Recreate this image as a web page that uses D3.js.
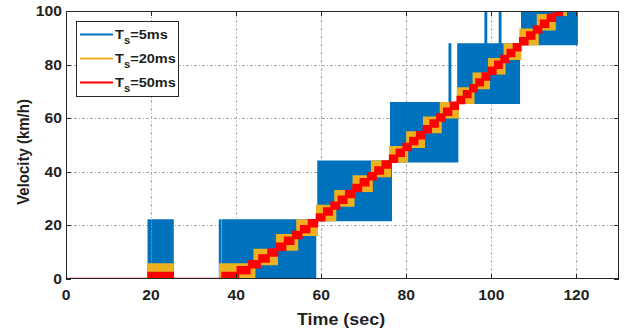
<!DOCTYPE html>
<html>
<head>
<meta charset="utf-8">
<script src="https://cdn.jsdelivr.net/npm/d3@7"></script>
<style>
  body { margin: 0; background: #fff; }
  svg { display: block; }
  text { font-family: "Liberation Sans", Arial, sans-serif; font-weight: bold; fill: #1f1f1f; }
</style>
</head>
<body>
<div id="chart"></div>
<script>
const legendLabels = ["5ms", "20ms", "50ms"];
const seriesColors = ["#0072bd", "#edb120", "#ff0000"];
const xTicks = [0, 20, 40, 60, 80, 100, 120];
const yTicks = [0, 20, 40, 60, 80, 100];

// Ts = 5ms, read as bands the signal fills: [t start, t end, v low, v high]
const blueBands = [
  [0, 19.4, 0, 0],
  [19.4, 19.8, 0, 21.9],
  [20.3, 25.1, 0, 21.9],
  [25.1, 36.2, 0, 0],
  [36.15, 36.35, 0, 21.9],
  [36.9, 58.6, 0, 21.9],
  [59.3, 76.4, 21.9, 43.8],
  [76.4, 92.0, 43.8, 65.7],
  [90.15, 90.35, 65.7, 87.6],
  [92.2, 106.5, 65.7, 87.6],
  [98.6, 98.8, 87.6, 109.5],
  [101.95, 102.15, 87.6, 109.5],
  [107.2, 120.1, 87.6, 109.5]
];

// Ts = 20ms: idle part, then one box per quantisation level
const yellowQuantum = 5.475;
const yellowIdle = [
  [0, 19.4, 0, 0],
  [19.4, 25.1, 0, 5.475],
  [25.1, 36.2, 0, 0]
];
const yellowSteps = [36.2, 44.3, 49.6, 54.35, 59.0, 63.3, 67.6, 71.9, 76.2, 80.2,
  84.15, 88.1, 92.1, 95.8, 99.45, 103.1, 106.8, 110.9, 114.9, 117.5];

// Ts = 50ms
const redQuantum = 2.19;
const redIdle = [
  [0, 19.4, 0, 0],
  [19.4, 25.1, 0, 2.19],
  [25.1, 36.8, 0, 0]
];
const redSteps = [36.8, 40.4, 43.1, 45.5, 47.6, 49.6, 51.5, 53.4, 55.3, 57.15, 59.0,
  60.72, 62.44, 64.16, 65.88, 67.6, 69.32, 71.04, 72.76, 74.48, 76.2,
  77.79, 79.38, 80.97, 82.56, 84.15, 85.74, 87.33, 88.92, 90.51, 92.1,
  93.57, 95.04, 96.51, 97.98, 99.45, 100.92, 102.39, 103.86, 105.33, 106.8,
  108.43, 110.05, 111.68, 113.3, 114.93, 116.55, 117.5];

const width = 624, height = 331;
const margin = { left: 66, right: 5, top: 11, bottom: 52 };
const stretch = 1.12; // text in the reference is a little wide
const lineWidths = [2, 2, 2.6];

const x = d3.scaleLinear().domain([0, 130]).range([margin.left, width - margin.right]);
const y = d3.scaleLinear().domain([0, 100]).range([height - margin.bottom, margin.top]);

const svg = d3.select("#chart").append("svg")
  .attr("width", width)
  .attr("height", height);

svg.append("clipPath").attr("id", "plot")
  .append("rect")
  .attr("x", x(0)).attr("y", y(100))
  .attr("width", x(130) - x(0)).attr("height", y(0) - y(100));

// grid
const grid = svg.append("g")
  .attr("stroke", "#a6a6a6")
  .attr("stroke-width", 1)
  .attr("stroke-dasharray", "3,2,1,2");
grid.selectAll(null).data(xTicks.slice(1)).join("line")
  .attr("x1", d => Math.round(x(d)) + 0.5).attr("x2", d => Math.round(x(d)) + 0.5)
  .attr("y1", y(0)).attr("y2", y(100));
grid.selectAll(null).data(yTicks.slice(1)).join("line")
  .attr("x1", x(0)).attr("x2", x(130))
  .attr("y1", d => Math.round(y(d)) + 0.5).attr("y2", d => Math.round(y(d)) + 0.5);

function stepBands(steps, q) {
  return steps.slice(0, -1).map((t, i) => [t, steps[i + 1], i * q, (i + 1) * q]);
}

function bandPath(d) {
  const x0 = x(d[0]), x1 = x(d[1]), y0 = y(d[2]), y1 = y(d[3]);
  return `M${x0},${y1}H${x1}V${y0}H${x0}Z`;
}

const plot = svg.append("g").attr("clip-path", "url(#plot)");

const allSeries = [
  blueBands,
  yellowIdle.concat(stepBands(yellowSteps, yellowQuantum)),
  redIdle.concat(stepBands(redSteps, redQuantum))
];

allSeries.forEach((bands, i) => {
  plot.append("g")
    .selectAll("path")
    .data(bands)
    .join("path")
    .attr("d", bandPath)
    .attr("fill", seriesColors[i])
    .attr("stroke", seriesColors[i])
    .attr("stroke-width", lineWidths[i])
    .attr("stroke-linejoin", "miter");
});

// axes box and inward ticks
const x0 = x(0), x1 = x(130), yb = y(0), yt = y(100);
svg.append("rect")
  .attr("x", x0 + 0.5).attr("y", yt + 0.5)
  .attr("width", x1 - x0 - 1).attr("height", yb - yt - 1)
  .attr("fill", "none").attr("stroke", "#262626").attr("stroke-width", 1);

const ticks = svg.append("g").attr("stroke", "#262626").attr("stroke-width", 1);
xTicks.forEach(t => {
  const px = Math.round(x(t)) + 0.5;
  ticks.append("line").attr("x1", px).attr("x2", px).attr("y1", yb).attr("y2", yb - 5);
  ticks.append("line").attr("x1", px).attr("x2", px).attr("y1", yt).attr("y2", yt + 5);
});
yTicks.forEach(v => {
  const py = Math.round(y(v)) + 0.5;
  ticks.append("line").attr("x1", x0).attr("x2", x0 + 5).attr("y1", py).attr("y2", py);
  ticks.append("line").attr("x1", x1).attr("x2", x1 - 5).attr("y1", py).attr("y2", py);
});

function label(txt, px, py, size, anchor, rotate) {
  return svg.append("text")
    .attr("transform", `translate(${px},${py}) scale(${stretch},1)` + (rotate ? ` rotate(${rotate})` : ""))
    .attr("text-anchor", anchor)
    .style("font-size", size + "px")
    .text(txt);
}

xTicks.forEach(t => label(t, x(t), 300, 14, "middle"));
yTicks.forEach(v => label(v, 62, y(v) + 5, 14, "end"));
label("Time (sec)", 341, 325, 16, "middle");
label("Velocity (km/h)", 29, 152, 15, "middle", -90);

// legend
const legend = svg.append("g");
legend.append("rect")
  .attr("x", 76.5).attr("y", 21.5).attr("width", 102).attr("height", 75)
  .attr("fill", "#fff").attr("stroke", "#262626").attr("stroke-width", 1);

legendLabels.forEach((name, i) => {
  const ly = 34.5 + i * 24;
  legend.append("line")
    .attr("x1", 80).attr("x2", 113).attr("y1", ly).attr("y2", ly)
    .attr("stroke", seriesColors[i]).attr("stroke-width", 2);
  const t = legend.append("text")
    .attr("transform", `translate(115,${ly + 4.5}) scale(${stretch},1)`)
    .style("font-size", "13px");
  t.append("tspan").text("T");
  t.append("tspan").attr("dy", 5).style("font-size", "10px").text("s");
  t.append("tspan").attr("dy", -5).text("=" + name);
});
</script>
</body>
</html>
